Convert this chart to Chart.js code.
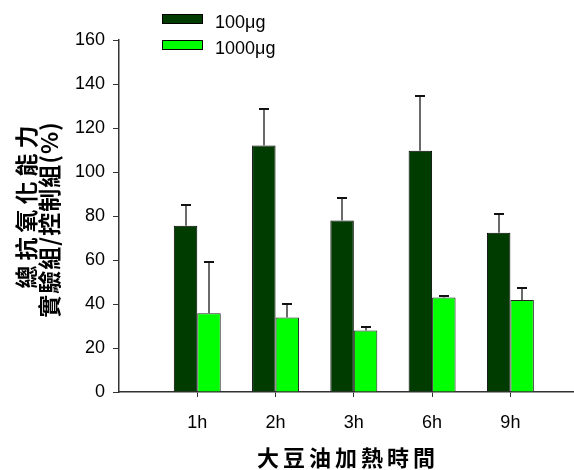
<!DOCTYPE html>
<html>
<head>
<meta charset="utf-8">
<script src="https://cdn.jsdelivr.net/npm/chart.js@4.4.0/dist/chart.umd.min.js"></script>
<style>
  body { margin: 0; background: #fff; }
</style>
</head>
<body>
<canvas id="chart" width="574" height="470"></canvas>
<script>
// heating time groups
const times = ['1h', '2h', '3h', '6h', '9h'];
// mean values and upper error
const mean100 = [75.6, 112.1, 78.0, 109.7, 72.4];
const err100 = [9.3, 16.7, 10.0, 25.0, 8.6];
const mean1000 = [35.8, 33.9, 28.0, 42.9, 41.8];
const err1000 = [23.4, 5.9, 1.7, 0.9, 5.5];
const seriesNames = ['100μg', '1000μg'];
const yTicks = [0, 20, 40, 60, 80, 100, 120, 140, 160];
const yTitle = ['總抗氧化能力', '實驗組/控制組(%)'];
const xTitle = '大豆油加熱時間';

// error bars (upper side only)
const errorBars = {
  id: 'errorBars',
  afterDatasetsDraw(chart) {
    const ctx = chart.ctx;
    const y = chart.scales.y;
    chart.data.datasets.forEach((ds, d) => {
      const meta = chart.getDatasetMeta(d);
      meta.data.forEach((bar, i) => {
        const top = Math.round(y.getPixelForValue(ds.data[i].y + ds.errors[i]));
        const x = Math.round(bar.x);
        ctx.save();
        ctx.strokeStyle = '#6a6a6a';
        ctx.lineWidth = 2;
        ctx.beginPath();
        ctx.moveTo(x, bar.y);
        ctx.lineTo(x, top);
        ctx.stroke();
        ctx.strokeStyle = '#111';
        ctx.beginPath();
        ctx.moveTo(x - 5, top);
        ctx.lineTo(x + 5, top);
        ctx.stroke();
        ctx.restore();
      });
    });
  }
};

// legend in the top left, stacked
const legendBox = {
  id: 'legendBox',
  afterDraw(chart) {
    const ctx = chart.ctx;
    chart.data.datasets.forEach((ds, i) => {
      const cy = 19 + i * 26;
      ctx.save();
      ctx.fillStyle = ds.backgroundColor;
      ctx.fillRect(162, cy - 5, 41, 10);
      ctx.strokeStyle = '#000';
      ctx.lineWidth = 1;
      ctx.strokeRect(162.5, cy - 4.5, 40, 9);
      ctx.fillStyle = '#000';
      ctx.font = '18px Arial';
      ctx.textBaseline = 'alphabetic';
      ctx.fillText(ds.label, 215, cy + 9);
      ctx.restore();
    });
  }
};

// axis titles, drawn by hand so the letter spacing can be set
const axisTitles = {
  id: 'axisTitles',
  afterDraw(chart) {
    const ctx = chart.ctx;
    const a = chart.chartArea;
    ctx.save();
    ctx.fillStyle = '#000';
    ctx.font = 'bold 22px "Noto Sans CJK TC"';
    ctx.textAlign = 'center';
    ctx.textBaseline = 'middle';
    ctx.letterSpacing = '4px';
    ctx.fillText(xTitle, (a.left + a.right) / 2 + 2, 458);
    ctx.font = 'bold 23px "Noto Sans CJK TC"';
    const lines = [[yTitle[0], 26, 207, 5], [yTitle[1], 49, 220, 1]];
    lines.forEach(([txt, x, y, sp]) => {
      ctx.save();
      ctx.letterSpacing = sp + 'px';
      ctx.translate(x, y);
      ctx.rotate(-Math.PI / 2);
      ctx.fillText(txt, sp / 2, 0);
      ctx.restore();
    });
    ctx.restore();
  }
};

new Chart(document.getElementById('chart'), {
  type: 'bar',
  data: {
    datasets: [
      {
        label: seriesNames[0],
        data: times.map((t, i) => ({ x: i + 1, y: mean100[i] })),
        errors: err100,
        backgroundColor: '#003c00',
        borderColor: '#000',
        borderWidth: 1
      },
      {
        label: seriesNames[1],
        data: times.map((t, i) => ({ x: i + 1, y: mean1000[i] })),
        errors: err1000,
        backgroundColor: '#00ff00',
        borderColor: '#222',
        borderWidth: 1
      }
    ]
  },
  options: {
    responsive: false,
    animation: false,
    layout: { padding: { top: 40, right: 1, left: 0, bottom: 0 } },
    datasets: { bar: { categoryPercentage: 0.6, barPercentage: 1 } },
    plugins: { legend: { display: false }, tooltip: { enabled: false } },
    scales: {
      x: {
        type: 'linear',
        min: 0,
        max: 5.8,
        offset: false,
        afterBuildTicks: s => { s.ticks = times.map((t, i) => ({ value: i + 1 })); },
        afterFit: s => { s.height = 78; },
        ticks: {
          callback: v => times[v - 1],
          font: { family: 'Arial', size: 18 },
          color: '#000',
          padding: 15,
          maxRotation: 0,
          autoSkip: false
        },
        grid: { offset: false, drawOnChartArea: false, drawTicks: true, tickLength: 5, color: '#333' },
        border: { color: '#333', width: 1.5 }
      },
      y: {
        min: 0,
        max: 160,
        afterBuildTicks: s => { s.ticks = yTicks.map(v => ({ value: v })); },
        afterFit: s => { s.width = 119; },
        ticks: { font: { family: 'Arial', size: 18 }, color: '#000', padding: 8 },
        grid: { drawOnChartArea: false, drawTicks: true, tickLength: 6, color: '#333' },
        border: { color: '#333', width: 1.5 }
      }
    }
  },
  plugins: [errorBars, legendBox, axisTitles]
});
</script>
</body>
</html>
